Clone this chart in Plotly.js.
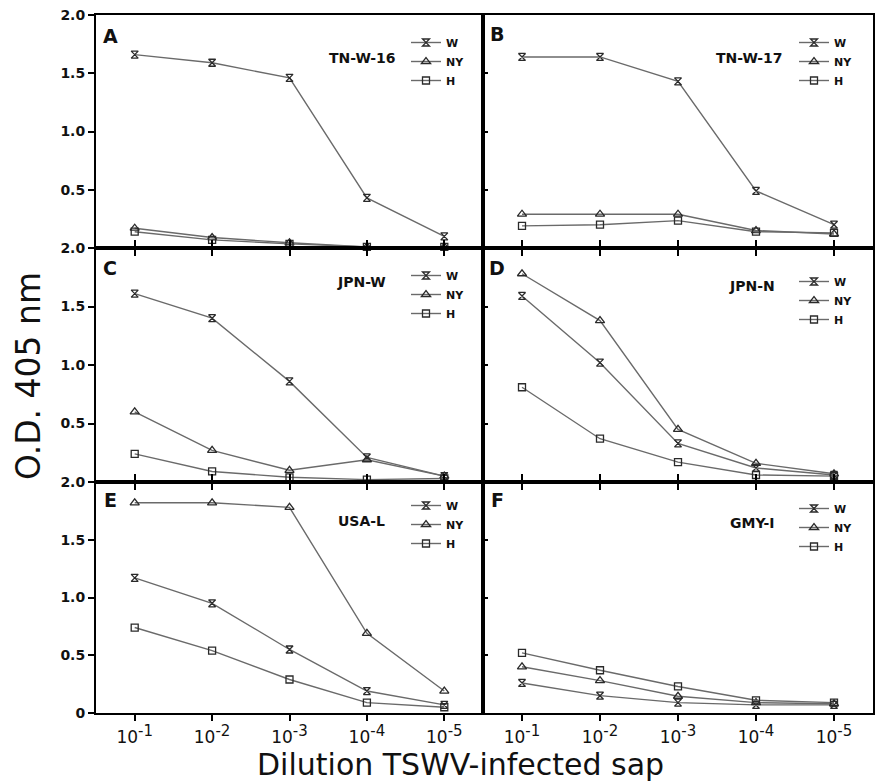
<!DOCTYPE html>
<html><head><meta charset="utf-8">
<script src="https://cdn.plot.ly/plotly-3.0.1.min.js"></script>
<style>html,body{margin:0;padding:0;background:#fff}</style>
</head><body><div id="chart" style="width:875px;height:784px"></div>
<script>
// ---- data ----
const dilution = [1e-1, 1e-2, 1e-3, 1e-4, 1e-5];
const dilutionLabels = ['-1', '-2', '-3', '-4', '-5'];
const seriesNames = ['W', 'NY', 'H'];
const panelLetters = ['A', 'B', 'C', 'D', 'E', 'F'];
const isolates = ['TN-W-16', 'TN-W-17', 'JPN-W', 'JPN-N', 'USA-L', 'GMY-I'];
const A_W  = [1.66, 1.59, 1.46, 0.43, 0.10];
const A_NY = [0.17, 0.09, 0.045, 0.01, 0.01];
const A_H  = [0.14, 0.07, 0.035, 0.01, 0.01];
const B_W  = [1.64, 1.64, 1.43, 0.49, 0.20];
const B_NY = [0.29, 0.29, 0.29, 0.15, 0.12];
const B_H  = [0.19, 0.20, 0.235, 0.14, 0.13];
const C_W  = [1.61, 1.40, 0.86, 0.21, 0.05];
const C_NY = [0.60, 0.27, 0.10, 0.19, 0.05];
const C_H  = [0.24, 0.09, 0.04, 0.02, 0.03];
const D_W  = [1.59, 1.02, 0.33, 0.12, 0.06];
const D_NY = [1.78, 1.38, 0.45, 0.16, 0.07];
const D_H  = [0.81, 0.37, 0.17, 0.06, 0.05];
const E_W  = [1.17, 0.95, 0.55, 0.19, 0.07];
const E_NY = [1.82, 1.82, 1.78, 0.69, 0.19];
const E_H  = [0.74, 0.54, 0.29, 0.09, 0.05];
const F_W  = [0.26, 0.15, 0.09, 0.07, 0.07];
const F_NY = [0.40, 0.28, 0.145, 0.09, 0.08];
const F_H  = [0.52, 0.37, 0.23, 0.11, 0.09];
const panelSeries = [[A_W, A_NY, A_H], [B_W, B_NY, B_H], [C_W, C_NY, C_H],
                     [D_W, D_NY, D_H], [E_W, E_NY, E_H], [F_W, F_NY, F_H]];
const yTickValsTop = [0, 0.5, 1.0, 1.5, 2.0];
const yTickValsLower = [0, 0.5, 1.0, 1.5];
const yTickTextTop = ['2.0', '0.5', '1.0', '1.5', '2.0'];
const yTickTextMid = ['2.0', '0.5', '1.0', '1.5'];
const yTickTextBottom = ['0', '0.5', '1.0', '1.5'];

// ---- styling ----
const W = 875, H = 784;
const ML = 96, MR = 2, MT = 15, MB = 71;
const PW = W - ML - MR, PH = H - MT - MB;
const px2x = p => (p - ML) / PW;
const px2y = p => (H - MB - p) / PH;
const colSplit = px2x(483);
const rowSplits = [px2y(248), px2y(482)];
const symbols = ['hourglass-open', 'triangle-up-open', 'square-open'];
const markerSizes = [7, 8, 7];
const lineCol = '#6a6a6a', markCol = '#2a2a2a';
const fam = 'DejaVu Sans, Liberation Sans, Arial, sans-serif';

const traces = [];
const layout = {
  width: W, height: H,
  margin: {l: ML, r: MR, t: MT, b: MB},
  paper_bgcolor: '#fff', plot_bgcolor: '#fff',
  showlegend: true,
  font: {family: fam, color: '#111'},
  annotations: [], hovermode: false
};

const legendLeftPx = [406, 794];
const legendTopPx = [28, 28, 261, 267, 491, 494];
const isoRightPx = [398, 785, 388, 777, 387, 777];
const isoYPx = [58, 58, 282, 286, 521, 523];
const letterXPx = [110, 497];
const letterYPx = [36, 34, 268, 268, 500, 500];

for (let p = 0; p < 6; p++) {
  const col = p % 2, row = Math.floor(p / 2);
  const ax = p === 0 ? '' : String(p + 1);
  const xk = 'xaxis' + ax, yk = 'yaxis' + ax;
  const lg = p === 0 ? 'legend' : 'legend' + (p + 1);
  const xDom = col === 0 ? [0, colSplit] : [colSplit, 1];
  const yDom = row === 0 ? [rowSplits[0], 1] : row === 1 ? [rowSplits[1], rowSplits[0]] : [0, rowSplits[1]];
  const bottom = row === 2;
  const xAxis = {
    domain: xDom, anchor: 'y' + ax, type: 'log', range: [-0.5, -5.5],
    showline: true, linecolor: '#000', linewidth: 2,
    mirror: row === 0 ? true : 'ticks',
    ticks: 'outside', ticklen: 6, tickwidth: 2, tickcolor: '#000',
    tickvals: dilution,
    showticklabels: bottom,
    showgrid: false, zeroline: false, fixedrange: true
  };
  if (bottom) {
    xAxis.ticktext = dilutionLabels.map(s => '10<sup><span style="font-size:15px">' + s + '</span></sup>');
    xAxis.ticklabelstandoff = 2;
    xAxis.tickfont = {family: fam, size: 17, color: '#111'};
  }
  layout[xk] = xAxis;
  const yAxis = {
    domain: yDom, anchor: 'x' + ax, range: [0, 2.0],
    showline: true, linecolor: '#000', linewidth: 2, mirror: true,
    ticks: col === 0 ? 'outside' : 'inside', ticklen: col === 0 ? 6 : 5,
    tickwidth: 2, tickcolor: '#000',
    tickvals: row === 0 ? yTickValsTop : yTickValsLower,
    showticklabels: col === 0,
    showgrid: false, zeroline: false, fixedrange: true
  };
  if (col === 0) {
    yAxis.ticktext = row === 0 ? yTickTextTop : row === 1 ? yTickTextMid : yTickTextBottom;
    yAxis.tickfont = {family: fam, size: 14, color: '#111', weight: 'bold'};
  }
  layout[yk] = yAxis;
  layout[lg] = {
    x: px2x(legendLeftPx[col]), y: px2y(legendTopPx[p]), xanchor: 'left', yanchor: 'top',
    bgcolor: 'rgba(0,0,0,0)', borderwidth: 0, tracegroupgap: 4,
    font: {family: fam, size: 11, color: '#111', weight: 'bold'},
    itemclick: false, itemdoubleclick: false, traceorder: 'normal'
  };
  for (let s = 0; s < 3; s++) {
    traces.push({
      type: 'scatter', mode: 'lines+markers',
      x: dilution, y: panelSeries[p][s], name: seriesNames[s],
      xaxis: 'x' + ax, yaxis: 'y' + ax, legend: lg, legendgroup: 'g' + p + s,
      line: {color: lineCol, width: 1.4},
      marker: {symbol: symbols[s], size: markerSizes[s], color: markCol, line: {color: markCol, width: 1.3}},
      cliponaxis: false
    });
  }
  layout.annotations.push({
    xref: 'paper', yref: 'paper', x: px2x(letterXPx[col]), y: px2y(letterYPx[p]),
    xanchor: 'center', yanchor: 'middle', showarrow: false, text: panelLetters[p],
    font: {family: fam, size: 19, color: '#111', weight: 'bold'}
  });
  layout.annotations.push({
    xref: 'paper', yref: 'paper', x: px2x(isoRightPx[p]), y: px2y(isoYPx[p]),
    xanchor: 'right', yanchor: 'middle', showarrow: false, text: isolates[p],
    font: {family: fam, size: 14, color: '#111', weight: 'bold'}
  });
}
// crossing tick marks on bottom row
['7', '8'].forEach((k, i) => {
  layout['xaxis' + k] = {
    overlaying: i === 0 ? 'x5' : 'x6', anchor: i === 0 ? 'y5' : 'y6', type: 'log', range: [-0.5, -5.5],
    side: 'bottom', showline: false, ticks: 'inside', ticklen: 6, tickwidth: 2, tickcolor: '#000',
    tickvals: dilution, showticklabels: false, showgrid: false, zeroline: false, fixedrange: true
  };
});
layout.annotations.push({
  xref: 'paper', yref: 'paper', x: px2x(28), y: px2y(376), textangle: -90,
  xanchor: 'center', yanchor: 'middle', showarrow: false, text: 'O.D. 405 nm',
  font: {family: fam, size: 33, color: '#111'}
});
layout.annotations.push({
  xref: 'paper', yref: 'paper', x: px2x(460), y: px2y(764),
  xanchor: 'center', yanchor: 'middle', showarrow: false, text: 'Dilution TSWV-infected sap',
  font: {family: fam, size: 30, color: '#111'}
});
Plotly.newPlot('chart', traces, layout, {displayModeBar: false, staticPlot: true});
</script></body></html>
